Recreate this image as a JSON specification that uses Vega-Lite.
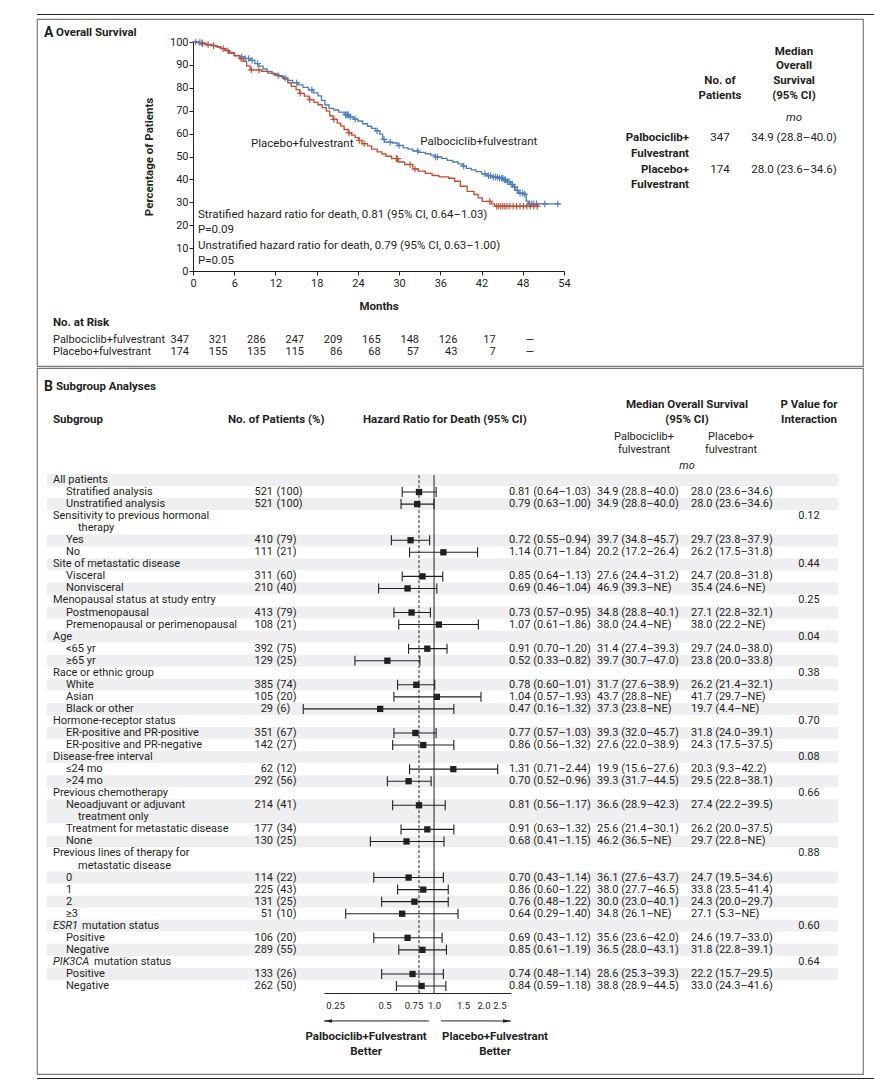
{
  "$schema": "https://vega.github.io/schema/vega-lite/v6.json",
  "padding": {"left": 36, "top": 14, "right": 0, "bottom": 0},
  "background": "white",
  "spacing": 3,
  "config": {
    "font": "Roboto",
    "view": {"stroke": null},
    "text": {"fontSize": 11, "color": "#231f20", "baseline": "middle"},
    "axis": {"labelFont": "Roboto", "titleFont": "Roboto", "labelColor": "#231f20", "titleColor": "#231f20", "domainColor": "#231f20", "tickColor": "#231f20", "grid": false}
  },
  "datasets": {
    "km": [
      {"arm":"pal","m":0,"pct":100},{"arm":"pal","m":0.8,"pct":99.7},{"arm":"pal","m":1.5,"pct":99.4},{"arm":"pal","m":2,"pct":99},{"arm":"pal","m":2.7,"pct":98.5},{"arm":"pal","m":3.3,"pct":98},{"arm":"pal","m":4,"pct":97.2},{"arm":"pal","m":4.6,"pct":96.3},{"arm":"pal","m":5.2,"pct":95.2},{"arm":"pal","m":6,"pct":94.2},{"arm":"pal","m":6.8,"pct":93.5},{"arm":"pal","m":7.5,"pct":92.8},{"arm":"pal","m":8.3,"pct":92},{"arm":"pal","m":9,"pct":90.6},{"arm":"pal","m":9.6,"pct":89.5},{"arm":"pal","m":10.2,"pct":88.2},{"arm":"pal","m":10.8,"pct":87.2},{"arm":"pal","m":11.5,"pct":86.2},{"arm":"pal","m":12.2,"pct":85.3},{"arm":"pal","m":13,"pct":84.3},{"arm":"pal","m":13.8,"pct":83.2},{"arm":"pal","m":14.5,"pct":82.2},{"arm":"pal","m":15.3,"pct":81.3},{"arm":"pal","m":16,"pct":80.2},{"arm":"pal","m":16.8,"pct":79.1},{"arm":"pal","m":17.5,"pct":77.8},{"arm":"pal","m":18.2,"pct":76.5},{"arm":"pal","m":18.7,"pct":74.5},{"arm":"pal","m":19.2,"pct":72.5},{"arm":"pal","m":19.8,"pct":71},{"arm":"pal","m":20.5,"pct":70.3},{"arm":"pal","m":21.2,"pct":69.4},{"arm":"pal","m":22,"pct":68.2},{"arm":"pal","m":22.7,"pct":67.3},{"arm":"pal","m":23.4,"pct":66.3},{"arm":"pal","m":24,"pct":65.5},{"arm":"pal","m":24.7,"pct":64.3},{"arm":"pal","m":25.4,"pct":63.2},{"arm":"pal","m":26,"pct":62.3},{"arm":"pal","m":26.6,"pct":61.2},{"arm":"pal","m":27.2,"pct":59.8},{"arm":"pal","m":27.6,"pct":57.5},{"arm":"pal","m":27.9,"pct":56.3},{"arm":"pal","m":29,"pct":55.9},{"arm":"pal","m":29.8,"pct":54.8},{"arm":"pal","m":30.6,"pct":53.8},{"arm":"pal","m":31.3,"pct":53.2},{"arm":"pal","m":32,"pct":52.4},{"arm":"pal","m":32.8,"pct":51.8},{"arm":"pal","m":33.8,"pct":51.2},{"arm":"pal","m":34.6,"pct":50.6},{"arm":"pal","m":35.2,"pct":49.8},{"arm":"pal","m":36.2,"pct":49.2},{"arm":"pal","m":37,"pct":48.3},{"arm":"pal","m":37.8,"pct":47.6},{"arm":"pal","m":38.6,"pct":46.8},{"arm":"pal","m":39.2,"pct":45.8},{"arm":"pal","m":39.8,"pct":44.8},{"arm":"pal","m":40.5,"pct":44.2},{"arm":"pal","m":41.2,"pct":43.4},{"arm":"pal","m":42,"pct":42.4},{"arm":"pal","m":42.8,"pct":41.6},{"arm":"pal","m":43.6,"pct":41},{"arm":"pal","m":44.4,"pct":40.5},{"arm":"pal","m":45.2,"pct":39.8},{"arm":"pal","m":45.7,"pct":39},{"arm":"pal","m":46.2,"pct":37.8},{"arm":"pal","m":46.6,"pct":36.8},{"arm":"pal","m":47,"pct":35.2},{"arm":"pal","m":47.4,"pct":34},{"arm":"pal","m":48.2,"pct":33.5},{"arm":"pal","m":48.5,"pct":30.5},{"arm":"pal","m":48.8,"pct":29.3},{"arm":"pal","m":53.4,"pct":29.3},
      {"arm":"pla","m":0,"pct":100},{"arm":"pla","m":0.9,"pct":99.3},{"arm":"pla","m":1.8,"pct":98.8},{"arm":"pla","m":2.7,"pct":98.4},{"arm":"pla","m":3.5,"pct":97.8},{"arm":"pla","m":4.1,"pct":97.1},{"arm":"pla","m":4.8,"pct":96.2},{"arm":"pla","m":5.3,"pct":95.3},{"arm":"pla","m":6,"pct":94},{"arm":"pla","m":6.8,"pct":92.7},{"arm":"pla","m":7.3,"pct":91.6},{"arm":"pla","m":7.8,"pct":89.6},{"arm":"pla","m":8.3,"pct":87.8},{"arm":"pla","m":10,"pct":87.2},{"arm":"pla","m":10.9,"pct":86.4},{"arm":"pla","m":11.8,"pct":85.6},{"arm":"pla","m":12.6,"pct":85},{"arm":"pla","m":13.2,"pct":83.8},{"arm":"pla","m":13.8,"pct":82.2},{"arm":"pla","m":14.3,"pct":80.6},{"arm":"pla","m":15,"pct":79.2},{"arm":"pla","m":15.5,"pct":77.6},{"arm":"pla","m":16.2,"pct":76.4},{"arm":"pla","m":16.9,"pct":74.8},{"arm":"pla","m":17.6,"pct":73.6},{"arm":"pla","m":18.2,"pct":72.6},{"arm":"pla","m":18.8,"pct":71.3},{"arm":"pla","m":19.4,"pct":69.8},{"arm":"pla","m":19.9,"pct":67.8},{"arm":"pla","m":20.4,"pct":66.2},{"arm":"pla","m":21,"pct":64.6},{"arm":"pla","m":21.5,"pct":63.3},{"arm":"pla","m":22,"pct":61.8},{"arm":"pla","m":22.6,"pct":60.3},{"arm":"pla","m":23.1,"pct":59.3},{"arm":"pla","m":23.6,"pct":58.2},{"arm":"pla","m":24.1,"pct":57},{"arm":"pla","m":24.6,"pct":55.6},{"arm":"pla","m":25.4,"pct":54.6},{"arm":"pla","m":26,"pct":53.2},{"arm":"pla","m":26.8,"pct":52},{"arm":"pla","m":27.5,"pct":51.1},{"arm":"pla","m":28.1,"pct":50.1},{"arm":"pla","m":28.9,"pct":49.1},{"arm":"pla","m":29.9,"pct":47.6},{"arm":"pla","m":30.8,"pct":46.5},{"arm":"pla","m":32,"pct":44.6},{"arm":"pla","m":32.8,"pct":43.6},{"arm":"pla","m":33.8,"pct":42.6},{"arm":"pla","m":34.8,"pct":41.7},{"arm":"pla","m":35.8,"pct":41.1},{"arm":"pla","m":37.2,"pct":40.5},{"arm":"pla","m":38.1,"pct":39.2},{"arm":"pla","m":38.9,"pct":37},{"arm":"pla","m":39.9,"pct":34.8},{"arm":"pla","m":40.9,"pct":33.4},{"arm":"pla","m":41.5,"pct":31.9},{"arm":"pla","m":42.1,"pct":30.4},{"arm":"pla","m":43.4,"pct":29.3},{"arm":"pla","m":43.9,"pct":28.3},{"arm":"pla","m":50.4,"pct":28.3}
    ],
    "cens": [
      {"arm":"pal","m":0.4,"pct":100},{"arm":"pal","m":1.0,"pct":99.7},{"arm":"pal","m":1.3,"pct":99.7},{"arm":"pal","m":7.1,"pct":93.5},{"arm":"pal","m":7.6,"pct":92.8},{"arm":"pal","m":8.1,"pct":92.8},{"arm":"pal","m":8.6,"pct":92},{"arm":"pal","m":9.4,"pct":90.6},{"arm":"pal","m":12.4,"pct":85.3},{"arm":"pal","m":13.4,"pct":84.3},{"arm":"pal","m":15.1,"pct":82.2},{"arm":"pal","m":17.3,"pct":79.1},{"arm":"pal","m":22.2,"pct":68.2},{"arm":"pal","m":22.4,"pct":68.2},{"arm":"pal","m":22.5,"pct":68.2},{"arm":"pal","m":22.6,"pct":68.2},{"arm":"pal","m":22.9,"pct":67.3},{"arm":"pal","m":23.6,"pct":66.3},{"arm":"pal","m":26.8,"pct":61.2},{"arm":"pal","m":27.8,"pct":57.5},{"arm":"pal","m":28.7,"pct":56.3},{"arm":"pal","m":30.0,"pct":54.8},{"arm":"pal","m":32.7,"pct":52.4},{"arm":"pal","m":35.3,"pct":49.8},{"arm":"pal","m":35.6,"pct":49.8},{"arm":"pal","m":39.4,"pct":45.8},{"arm":"pal","m":42.5,"pct":42.4},{"arm":"pal","m":43.0,"pct":41.6},{"arm":"pal","m":43.3,"pct":41.6},{"arm":"pal","m":43.7,"pct":41},{"arm":"pal","m":44.0,"pct":41},{"arm":"pal","m":44.3,"pct":41},{"arm":"pal","m":44.6,"pct":40.5},{"arm":"pal","m":44.9,"pct":40.5},{"arm":"pal","m":45.1,"pct":40.5},{"arm":"pal","m":45.3,"pct":39.8},{"arm":"pal","m":45.5,"pct":39.8},{"arm":"pal","m":45.8,"pct":39},{"arm":"pal","m":46.0,"pct":39},{"arm":"pal","m":46.3,"pct":37.8},{"arm":"pal","m":46.5,"pct":37.8},{"arm":"pal","m":46.8,"pct":36.8},{"arm":"pal","m":47.2,"pct":35.2},{"arm":"pal","m":47.6,"pct":34},{"arm":"pal","m":48.0,"pct":34},{"arm":"pal","m":48.3,"pct":33.5},{"arm":"pal","m":49.0,"pct":29.3},{"arm":"pal","m":49.3,"pct":29.3},{"arm":"pal","m":49.6,"pct":29.3},{"arm":"pal","m":50.0,"pct":29.3},{"arm":"pal","m":51.2,"pct":29.3},{"arm":"pal","m":53.1,"pct":29.3},
      {"arm":"pla","m":1.4,"pct":99.3},{"arm":"pla","m":2.2,"pct":98.8},{"arm":"pla","m":3.0,"pct":98.4},{"arm":"pla","m":4.4,"pct":97.1},{"arm":"pla","m":5.1,"pct":96.2},{"arm":"pla","m":7.0,"pct":92.7},{"arm":"pla","m":8.5,"pct":87.8},{"arm":"pla","m":9.6,"pct":87.8},{"arm":"pla","m":15.6,"pct":77.6},{"arm":"pla","m":17.0,"pct":74.8},{"arm":"pla","m":20.5,"pct":66.2},{"arm":"pla","m":22.7,"pct":60.3},{"arm":"pla","m":24.2,"pct":57},{"arm":"pla","m":24.9,"pct":55.6},{"arm":"pla","m":29.6,"pct":49.1},{"arm":"pla","m":29.8,"pct":49.1},{"arm":"pla","m":31.6,"pct":46.5},{"arm":"pla","m":32.3,"pct":44.6},{"arm":"pla","m":43.2,"pct":30.4},{"arm":"pla","m":44.2,"pct":28.3},{"arm":"pla","m":44.5,"pct":28.3},{"arm":"pla","m":44.8,"pct":28.3},{"arm":"pla","m":45.1,"pct":28.3},{"arm":"pla","m":45.4,"pct":28.3},{"arm":"pla","m":45.7,"pct":28.3},{"arm":"pla","m":46.1,"pct":28.3},{"arm":"pla","m":46.6,"pct":28.3},{"arm":"pla","m":47.1,"pct":28.3},{"arm":"pla","m":47.6,"pct":28.3},{"arm":"pla","m":48.1,"pct":28.3},{"arm":"pla","m":48.6,"pct":28.3},{"arm":"pla","m":49.1,"pct":28.3},{"arm":"pla","m":49.6,"pct":28.3},{"arm":"pla","m":50.1,"pct":28.3}
    ],
    "kmlab": [
      {"m":15.9,"pct":55.5,"t":"Placebo+fulvestrant"},
      {"m":41.6,"pct":56.3,"t":"Palbociclib+fulvestrant"}
    ],
    "hrnote": [
      {"m":0.73,"pct":24.5,"t":"Stratified hazard ratio for death, 0.81 (95% CI, 0.64–1.03)"},
      {"m":0.73,"pct":17.9,"t":"P=0.09"},
      {"m":0.73,"pct":10.9,"t":"Unstratified hazard ratio for death, 0.79 (95% CI, 0.63–1.00)"},
      {"m":0.73,"pct":4.4,"t":"P=0.05"}
    ],
    "atab": [
      {"col":0,"line":0,"t":"A","sub":"Overall Survival","role":"panel"},
      {"col":3,"line":3,"t":"No. of","role":"colhead"},
      {"col":3,"line":4,"t":"Patients","role":"colhead"},
      {"col":4,"line":1,"t":"Median","role":"colhead"},
      {"col":4,"line":2,"t":"Overall","role":"colhead"},
      {"col":4,"line":3,"t":"Survival","role":"colhead"},
      {"col":4,"line":4,"t":"(95% CI)","role":"colhead"},
      {"col":4,"line":5,"t":"mo","role":"unit"},
      {"col":2,"line":6,"t":"Palbociclib+","role":"arm"},
      {"col":2,"line":7,"t":"Fulvestrant","role":"arm"},
      {"col":2,"line":8,"t":"Placebo+","role":"arm"},
      {"col":2,"line":9,"t":"Fulvestrant","role":"arm"},
      {"col":3,"line":6,"t":"347","role":"value"},
      {"col":4,"line":6,"t":"34.9 (28.8–40.0)","role":"value"},
      {"col":3,"line":8,"t":"174","role":"value"},
      {"col":4,"line":8,"t":"28.0 (23.6–34.6)","role":"value"},
      {"col":1,"line":10,"t":"No. at Risk","role":"riskhead"},
      {"col":1,"line":11,"t":"Palbociclib+fulvestrant","role":"risklabel"},
      {"col":1,"line":12,"t":"Placebo+fulvestrant","role":"risklabel"}
    ],
    "risk": [
      {"line":11,"m":0,"n":"347"},{"line":11,"m":6,"n":"321"},{"line":11,"m":12,"n":"286"},{"line":11,"m":18,"n":"247"},{"line":11,"m":24,"n":"209"},{"line":11,"m":30,"n":"165"},{"line":11,"m":36,"n":"148"},{"line":11,"m":42,"n":"126"},{"line":11,"m":48,"n":"17"},{"line":11,"m":54,"n":"—"},
      {"line":12,"m":0,"n":"174"},{"line":12,"m":6,"n":"155"},{"line":12,"m":12,"n":"135"},{"line":12,"m":18,"n":"115"},{"line":12,"m":24,"n":"86"},{"line":12,"m":30,"n":"68"},{"line":12,"m":36,"n":"57"},{"line":12,"m":42,"n":"43"},{"line":12,"m":48,"n":"7"},{"line":12,"m":54,"n":"—"}
    ],
    "bhead": [
      {"col":-2,"line":-7.72,"t":"B","sub":"Subgroup Analyses","role":"panel"},
      {"col":0,"line":-4.98,"t":"Subgroup","role":"colhead"},
      {"col":3,"line":-4.98,"t":"No. of Patients (%)","role":"colhead"},
      {"col":6,"line":-4.98,"t":"Hazard Ratio for Death (95% CI)","role":"colhead"},
      {"col":10,"line":-6.22,"t":"Median Overall Survival","role":"colhead"},
      {"col":10,"line":-4.98,"t":"(95% CI)","role":"colhead"},
      {"col":13,"line":-6.22,"t":"P Value for","role":"colhead"},
      {"col":13,"line":-4.98,"t":"Interaction","role":"colhead"},
      {"col":9,"line":-3.57,"t":"Palbociclib+","role":"subhead"},
      {"col":9,"line":-2.49,"t":"fulvestrant","role":"subhead"},
      {"col":12,"line":-3.57,"t":"Placebo+","role":"subhead"},
      {"col":12,"line":-2.49,"t":"fulvestrant","role":"subhead"},
      {"col":10,"line":-1.16,"t":"mo","role":"unit"}
    ],
    "bands": [
      {"top":-0.5,"bottom":0.5},{"top":1.5,"bottom":2.5},{"top":4.5,"bottom":5.5},{"top":6.5,"bottom":7.5},{"top":8.5,"bottom":9.5},{"top":10.5,"bottom":11.5},{"top":12.5,"bottom":13.5},{"top":14.5,"bottom":15.5},{"top":16.5,"bottom":17.5},{"top":18.5,"bottom":19.5},{"top":20.5,"bottom":21.5},{"top":22.5,"bottom":23.5},{"top":24.5,"bottom":25.5},{"top":26.5,"bottom":28.5},{"top":29.5,"bottom":30.5},{"top":32.5,"bottom":33.5},{"top":34.5,"bottom":35.5},{"top":36.5,"bottom":37.5},{"top":38.5,"bottom":39.5},{"top":40.5,"bottom":41.5}
    ],
    "rows": [
      {"line":0,"level":0,"label":"All patients"},
      {"line":1,"level":1,"label":"Stratified analysis","cnt":"521","pc":"(100)","hr":0.81,"lo":0.64,"hi":1.03,"hrt":"0.81 (0.64–1.03)","pal":"34.9 (28.8–40.0)","pla":"28.0 (23.6–34.6)"},
      {"line":2,"level":1,"label":"Unstratified analysis","cnt":"521","pc":"(100)","hr":0.79,"lo":0.63,"hi":1.00,"hrt":"0.79 (0.63–1.00)","pal":"34.9 (28.8–40.0)","pla":"28.0 (23.6–34.6)"},
      {"line":3,"level":0,"label":"Sensitivity to previous hormonal","p":"0.12"},
      {"line":4,"level":2,"label":"therapy"},
      {"line":5,"level":1,"label":"Yes","cnt":"410","pc":"(79)","hr":0.72,"lo":0.55,"hi":0.94,"hrt":"0.72 (0.55–0.94)","pal":"39.7 (34.8–45.7)","pla":"29.7 (23.8–37.9)"},
      {"line":6,"level":1,"label":"No","cnt":"111","pc":"(21)","hr":1.14,"lo":0.71,"hi":1.84,"hrt":"1.14 (0.71–1.84)","pal":"20.2 (17.2–26.4)","pla":"26.2 (17.5–31.8)"},
      {"line":7,"level":0,"label":"Site of metastatic disease","p":"0.44"},
      {"line":8,"level":1,"label":"Visceral","cnt":"311","pc":"(60)","hr":0.85,"lo":0.64,"hi":1.13,"hrt":"0.85 (0.64–1.13)","pal":"27.6 (24.4–31.2)","pla":"24.7 (20.8–31.8)"},
      {"line":9,"level":1,"label":"Nonvisceral","cnt":"210","pc":"(40)","hr":0.69,"lo":0.46,"hi":1.04,"hrt":"0.69 (0.46–1.04)","pal":"46.9 (39.3–NE)","pla":"35.4 (24.6–NE)"},
      {"line":10,"level":0,"label":"Menopausal status at study entry","p":"0.25"},
      {"line":11,"level":1,"label":"Postmenopausal","cnt":"413","pc":"(79)","hr":0.73,"lo":0.57,"hi":0.95,"hrt":"0.73 (0.57–0.95)","pal":"34.8 (28.8–40.1)","pla":"27.1 (22.8–32.1)"},
      {"line":12,"level":1,"label":"Premenopausal or perimenopausal","cnt":"108","pc":"(21)","hr":1.07,"lo":0.61,"hi":1.86,"hrt":"1.07 (0.61–1.86)","pal":"38.0 (24.4–NE)","pla":"38.0 (22.2–NE)"},
      {"line":13,"level":0,"label":"Age","p":"0.04"},
      {"line":14,"level":1,"label":"<65 yr","cnt":"392","pc":"(75)","hr":0.91,"lo":0.70,"hi":1.20,"hrt":"0.91 (0.70–1.20)","pal":"31.4 (27.4–39.3)","pla":"29.7 (24.0–38.0)"},
      {"line":15,"level":1,"label":"≥65 yr","cnt":"129","pc":"(25)","hr":0.52,"lo":0.33,"hi":0.82,"hrt":"0.52 (0.33–0.82)","pal":"39.7 (30.7–47.0)","pla":"23.8 (20.0–33.8)"},
      {"line":16,"level":0,"label":"Race or ethnic group","p":"0.38"},
      {"line":17,"level":1,"label":"White","cnt":"385","pc":"(74)","hr":0.78,"lo":0.60,"hi":1.01,"hrt":"0.78 (0.60–1.01)","pal":"31.7 (27.6–38.9)","pla":"26.2 (21.4–32.1)"},
      {"line":18,"level":1,"label":"Asian","cnt":"105","pc":"(20)","hr":1.04,"lo":0.57,"hi":1.93,"hrt":"1.04 (0.57–1.93)","pal":"43.7 (28.8–NE)","pla":"41.7 (29.7–NE)"},
      {"line":19,"level":1,"label":"Black or other","cnt":"29","pc":"(6)","hr":0.47,"lo":0.16,"hi":1.32,"hrt":"0.47 (0.16–1.32)","pal":"37.3 (23.8–NE)","pla":"19.7 (4.4–NE)"},
      {"line":20,"level":0,"label":"Hormone-receptor status","p":"0.70"},
      {"line":21,"level":1,"label":"ER-positive and PR-positive","cnt":"351","pc":"(67)","hr":0.77,"lo":0.57,"hi":1.03,"hrt":"0.77 (0.57–1.03)","pal":"39.3 (32.0–45.7)","pla":"31.8 (24.0–39.1)"},
      {"line":22,"level":1,"label":"ER-positive and PR-negative","cnt":"142","pc":"(27)","hr":0.86,"lo":0.56,"hi":1.32,"hrt":"0.86 (0.56–1.32)","pal":"27.6 (22.0–38.9)","pla":"24.3 (17.5–37.5)"},
      {"line":23,"level":0,"label":"Disease-free interval","p":"0.08"},
      {"line":24,"level":1,"label":"≤24 mo","cnt":"62","pc":"(12)","hr":1.31,"lo":0.71,"hi":2.44,"hrt":"1.31 (0.71–2.44)","pal":"19.9 (15.6–27.6)","pla":"20.3 (9.3–42.2)"},
      {"line":25,"level":1,"label":">24 mo","cnt":"292","pc":"(56)","hr":0.70,"lo":0.52,"hi":0.96,"hrt":"0.70 (0.52–0.96)","pal":"39.3 (31.7–44.5)","pla":"29.5 (22.8–38.1)"},
      {"line":26,"level":0,"label":"Previous chemotherapy","p":"0.66"},
      {"line":27,"level":1,"label":"Neoadjuvant or adjuvant","cnt":"214","pc":"(41)","hr":0.81,"lo":0.56,"hi":1.17,"hrt":"0.81 (0.56–1.17)","pal":"36.6 (28.9–42.3)","pla":"27.4 (22.2–39.5)"},
      {"line":28,"level":2,"label":"treatment only"},
      {"line":29,"level":1,"label":"Treatment for metastatic disease","cnt":"177","pc":"(34)","hr":0.91,"lo":0.63,"hi":1.32,"hrt":"0.91 (0.63–1.32)","pal":"25.6 (21.4–30.1)","pla":"26.2 (20.0–37.5)"},
      {"line":30,"level":1,"label":"None","cnt":"130","pc":"(25)","hr":0.68,"lo":0.41,"hi":1.15,"hrt":"0.68 (0.41–1.15)","pal":"46.2 (36.5–NE)","pla":"29.7 (22.8–NE)"},
      {"line":31,"level":0,"label":"Previous lines of therapy for","p":"0.88"},
      {"line":32,"level":2,"label":"metastatic disease"},
      {"line":33,"level":1,"label":"0","cnt":"114","pc":"(22)","hr":0.70,"lo":0.43,"hi":1.14,"hrt":"0.70 (0.43–1.14)","pal":"36.1 (27.6–43.7)","pla":"24.7 (19.5–34.6)"},
      {"line":34,"level":1,"label":"1","cnt":"225","pc":"(43)","hr":0.86,"lo":0.60,"hi":1.22,"hrt":"0.86 (0.60–1.22)","pal":"38.0 (27.7–46.5)","pla":"33.8 (23.5–41.4)"},
      {"line":35,"level":1,"label":"2","cnt":"131","pc":"(25)","hr":0.76,"lo":0.48,"hi":1.22,"hrt":"0.76 (0.48–1.22)","pal":"30.0 (23.0–40.1)","pla":"24.3 (20.0–29.7)"},
      {"line":36,"level":1,"label":"≥3","cnt":"51","pc":"(10)","hr":0.64,"lo":0.29,"hi":1.40,"hrt":"0.64 (0.29–1.40)","pal":"34.8 (26.1–NE)","pla":"27.1 (5.3–NE)"},
      {"line":37,"level":0,"gene":"ESR1","after":"mutation status","p":"0.60"},
      {"line":38,"level":1,"label":"Positive","cnt":"106","pc":"(20)","hr":0.69,"lo":0.43,"hi":1.12,"hrt":"0.69 (0.43–1.12)","pal":"35.6 (23.6–42.0)","pla":"24.6 (19.7–33.0)"},
      {"line":39,"level":1,"label":"Negative","cnt":"289","pc":"(55)","hr":0.85,"lo":0.61,"hi":1.19,"hrt":"0.85 (0.61–1.19)","pal":"36.5 (28.0–43.1)","pla":"31.8 (22.8–39.1)"},
      {"line":40,"level":0,"gene":"PIK3CA","after":"mutation status","p":"0.64"},
      {"line":41,"level":1,"label":"Positive","cnt":"133","pc":"(26)","hr":0.74,"lo":0.48,"hi":1.14,"hrt":"0.74 (0.48–1.14)","pal":"28.6 (25.3–39.3)","pla":"22.2 (15.7–29.5)"},
      {"line":42,"level":1,"label":"Negative","cnt":"262","pc":"(50)","hr":0.84,"lo":0.59,"hi":1.18,"hrt":"0.84 (0.59–1.18)","pal":"38.8 (28.9–44.5)","pla":"33.0 (24.3–41.6)"}
    ],
    "arrows": [
      {"from":0.93,"to":0.214,"line":44.9,"dir":"left"},
      {"from":1.10,"to":2.94,"line":44.9,"dir":"right"}
    ],
    "arrowlab": [
      {"x":0.386,"line":46.22,"t":"Palbociclib+Fulvestrant"},
      {"x":0.386,"line":47.47,"t":"Better"},
      {"x":2.35,"line":46.22,"t":"Placebo+Fulvestrant"},
      {"x":2.35,"line":47.47,"t":"Better"}
    ]
  },
  "vconcat": [
    {
      "width": 838, "height": 1,
      "data": {"values": []},
      "mark": "point",
      "view": {"fill": "#231f20", "stroke": null}
    },
    {
      "spacing": 0,
      "vconcat": [
        {
          "width": 826, "height": 347,
          "view": {"stroke": "#7a7a7a", "strokeWidth": 1.2},
          "data": {"name": "atab"},
          "resolve": {"scale": {"x": "independent", "y": "independent", "color": "independent"}},
          "layer": [
            {
              "data": {"name": "km"},
              "mark": {"type": "line", "interpolate": "step-after", "strokeWidth": 1.3},
              "encoding": {
                "x": {"field": "m", "type": "quantitative", "scale": {"domain": [0, 54], "range": [156, 527], "nice": false, "zero": false},
                  "axis": {"orient": "bottom", "offset": -95, "values": [0, 6, 12, 18, 24, 30, 36, 42, 48, 54], "title": "Months", "titleFontWeight": "bold", "titleFontSize": 11.5, "titlePadding": 12, "labelFontSize": 11, "tickSize": 4, "labelPadding": 2, "labelFlush": false, "labelOverlap": false}},
                "y": {"field": "pct", "type": "quantitative", "scale": {"domain": [0, 100], "range": [252, 23], "nice": false, "zero": false},
                  "axis": {"orient": "left", "offset": -156, "values": [0, 10, 20, 30, 40, 50, 60, 70, 80, 90, 100], "title": "Percentage of Patients", "titleFontWeight": "bold", "titleFontSize": 11.5, "titlePadding": 15, "labelFontSize": 11, "tickSize": 4, "labelPadding": 1, "labelOverlap": false}},
                "color": {"field": "arm", "type": "nominal", "scale": {"domain": ["pal", "pla"], "range": ["#4a7dc2", "#c64a2e"]}, "legend": null}
              }
            },
            {
              "data": {"name": "cens"},
              "mark": {"type": "point", "shape": "M-1,0H1M0,-1V1", "filled": false, "size": 44, "strokeWidth": 1.1, "opacity": 1},
              "encoding": {
                "x": {"field": "m", "type": "quantitative", "scale": {"domain": [0, 54], "range": [156, 527], "nice": false, "zero": false}, "axis": null},
                "y": {"field": "pct", "type": "quantitative", "scale": {"domain": [0, 100], "range": [252, 23], "nice": false, "zero": false}, "axis": null},
                "color": {"field": "arm", "type": "nominal", "scale": {"domain": ["pal", "pla"], "range": ["#4a7dc2", "#c64a2e"]}, "legend": null}
              }
            },
            {
              "data": {"name": "kmlab"},
              "mark": {"type": "text", "align": "center", "fontSize": 11.5},
              "encoding": {
                "x": {"field": "m", "type": "quantitative", "scale": {"domain": [0, 54], "range": [156, 527], "nice": false, "zero": false}, "axis": null},
                "y": {"field": "pct", "type": "quantitative", "scale": {"domain": [0, 100], "range": [252, 23], "nice": false, "zero": false}, "axis": null},
                "text": {"field": "t"}
              }
            },
            {
              "data": {"name": "hrnote"},
              "mark": {"type": "text", "align": "left", "fontSize": 11.5},
              "encoding": {
                "x": {"field": "m", "type": "quantitative", "scale": {"domain": [0, 54], "range": [156, 527], "nice": false, "zero": false}, "axis": null},
                "y": {"field": "pct", "type": "quantitative", "scale": {"domain": [0, 100], "range": [252, 23], "nice": false, "zero": false}, "axis": null},
                "text": {"field": "t"}
              }
            },
            {
              "transform": [{"filter": "datum.role == 'panel'"}],
              "mark": {"type": "text", "align": "left", "fontSize": 14, "fontWeight": "bold"},
              "encoding": {
                "x": {"field": "col", "type": "quantitative", "scale": {"domain": [0, 1, 2, 3, 4], "range": [7, 16, 652, 683, 757], "nice": false, "zero": false}, "axis": null},
                "y": {"field": "line", "type": "quantitative", "scale": {"domain": [0, 1, 2, 3, 4, 5, 6, 7, 8, 9, 10, 11, 12], "range": [14, 33, 47, 62, 77, 99, 119, 135, 151, 166, 304, 321, 333], "nice": false, "zero": false}, "axis": null},
                "text": {"field": "t"}
              }
            },
            {
              "transform": [{"filter": "datum.role == 'panel'"}],
              "mark": {"type": "text", "align": "left", "fontSize": 11.5, "fontWeight": "bold", "dx": 12},
              "encoding": {
                "x": {"field": "col", "type": "quantitative", "scale": {"domain": [0, 1, 2, 3, 4], "range": [7, 16, 652, 683, 757], "nice": false, "zero": false}, "axis": null},
                "y": {"field": "line", "type": "quantitative", "scale": {"domain": [0, 1, 2, 3, 4, 5, 6, 7, 8, 9, 10, 11, 12], "range": [14, 33, 47, 62, 77, 99, 119, 135, 151, 166, 304, 321, 333], "nice": false, "zero": false}, "axis": null},
                "text": {"field": "sub"}
              }
            },
            {
              "transform": [{"filter": "datum.role == 'colhead'"}],
              "mark": {"type": "text", "align": "center", "fontSize": 11.5, "fontWeight": "bold"},
              "encoding": {
                "x": {"field": "col", "type": "quantitative", "scale": {"domain": [0, 1, 2, 3, 4], "range": [7, 16, 652, 683, 757], "nice": false, "zero": false}, "axis": null},
                "y": {"field": "line", "type": "quantitative", "scale": {"domain": [0, 1, 2, 3, 4, 5, 6, 7, 8, 9, 10, 11, 12], "range": [14, 33, 47, 62, 77, 99, 119, 135, 151, 166, 304, 321, 333], "nice": false, "zero": false}, "axis": null},
                "text": {"field": "t"}
              }
            },
            {
              "transform": [{"filter": "datum.role == 'arm'"}],
              "mark": {"type": "text", "align": "right", "fontSize": 11.5, "fontWeight": "bold"},
              "encoding": {
                "x": {"field": "col", "type": "quantitative", "scale": {"domain": [0, 1, 2, 3, 4], "range": [7, 16, 652, 683, 757], "nice": false, "zero": false}, "axis": null},
                "y": {"field": "line", "type": "quantitative", "scale": {"domain": [0, 1, 2, 3, 4, 5, 6, 7, 8, 9, 10, 11, 12], "range": [14, 33, 47, 62, 77, 99, 119, 135, 151, 166, 304, 321, 333], "nice": false, "zero": false}, "axis": null},
                "text": {"field": "t"}
              }
            },
            {
              "transform": [{"filter": "datum.role == 'value'"}],
              "mark": {"type": "text", "align": "center", "fontSize": 11.5},
              "encoding": {
                "x": {"field": "col", "type": "quantitative", "scale": {"domain": [0, 1, 2, 3, 4], "range": [7, 16, 652, 683, 757], "nice": false, "zero": false}, "axis": null},
                "y": {"field": "line", "type": "quantitative", "scale": {"domain": [0, 1, 2, 3, 4, 5, 6, 7, 8, 9, 10, 11, 12], "range": [14, 33, 47, 62, 77, 99, 119, 135, 151, 166, 304, 321, 333], "nice": false, "zero": false}, "axis": null},
                "text": {"field": "t"}
              }
            },
            {
              "transform": [{"filter": "datum.role == 'unit'"}],
              "mark": {"type": "text", "align": "center", "fontSize": 11.5, "fontStyle": "italic"},
              "encoding": {
                "x": {"field": "col", "type": "quantitative", "scale": {"domain": [0, 1, 2, 3, 4], "range": [7, 16, 652, 683, 757], "nice": false, "zero": false}, "axis": null},
                "y": {"field": "line", "type": "quantitative", "scale": {"domain": [0, 1, 2, 3, 4, 5, 6, 7, 8, 9, 10, 11, 12], "range": [14, 33, 47, 62, 77, 99, 119, 135, 151, 166, 304, 321, 333], "nice": false, "zero": false}, "axis": null},
                "text": {"field": "t"}
              }
            },
            {
              "transform": [{"filter": "datum.role == 'riskhead'"}],
              "mark": {"type": "text", "align": "left", "fontSize": 11.5, "fontWeight": "bold"},
              "encoding": {
                "x": {"field": "col", "type": "quantitative", "scale": {"domain": [0, 1, 2, 3, 4], "range": [7, 16, 652, 683, 757], "nice": false, "zero": false}, "axis": null},
                "y": {"field": "line", "type": "quantitative", "scale": {"domain": [0, 1, 2, 3, 4, 5, 6, 7, 8, 9, 10, 11, 12], "range": [14, 33, 47, 62, 77, 99, 119, 135, 151, 166, 304, 321, 333], "nice": false, "zero": false}, "axis": null},
                "text": {"field": "t"}
              }
            },
            {
              "transform": [{"filter": "datum.role == 'risklabel'"}],
              "mark": {"type": "text", "align": "left", "fontSize": 11},
              "encoding": {
                "x": {"field": "col", "type": "quantitative", "scale": {"domain": [0, 1, 2, 3, 4], "range": [7, 16, 652, 683, 757], "nice": false, "zero": false}, "axis": null},
                "y": {"field": "line", "type": "quantitative", "scale": {"domain": [0, 1, 2, 3, 4, 5, 6, 7, 8, 9, 10, 11, 12], "range": [14, 33, 47, 62, 77, 99, 119, 135, 151, 166, 304, 321, 333], "nice": false, "zero": false}, "axis": null},
                "text": {"field": "t"}
              }
            },
            {
              "data": {"name": "risk"},
              "mark": {"type": "text", "align": "right", "fontSize": 11},
              "encoding": {
                "x": {"field": "m", "type": "quantitative", "scale": {"domain": [0, 54], "range": [152, 497], "nice": false, "zero": false}, "axis": null},
                "y": {"field": "line", "type": "quantitative", "scale": {"domain": [0, 1, 2, 3, 4, 5, 6, 7, 8, 9, 10, 11, 12], "range": [14, 33, 47, 62, 77, 99, 119, 135, 151, 166, 304, 321, 333], "nice": false, "zero": false}, "axis": null},
                "text": {"field": "n"}
              }
            }
          ]
        },
        {
          "width": 826, "height": 706,
          "view": {"stroke": "#7a7a7a", "strokeWidth": 1.2},
          "data": {"name": "rows"},
          "resolve": {"scale": {"x": "independent", "y": "independent"}},
          "layer": [
            {
              "data": {"name": "bands"},
              "mark": {"type": "rect", "color": "#efeff1"},
              "encoding": {
                "x": {"datum": -1, "type": "quantitative", "scale": {"domain": [-2, -1, 0, 1, 2, 3, 4, 5, 6, 7, 8, 9, 10, 11, 12, 13, 14], "range": [7, 10, 16, 29, 41, 191, 236, 239.5, 326, 472, 560, 607, 650, 654, 694, 772, 801], "nice": false, "zero": false}, "axis": null},
                "x2": {"datum": 14},
                "y": {"field": "top", "type": "quantitative", "scale": {"domain": [0, 42], "range": [112, 618], "nice": false, "zero": false}, "axis": null},
                "y2": {"field": "bottom"}
              }
            },
            {
              "data": {"name": "bhead"},
              "transform": [{"filter": "datum.role == 'panel'"}],
              "mark": {"type": "text", "align": "left", "fontSize": 14, "fontWeight": "bold"},
              "encoding": {
                "x": {"field": "col", "type": "quantitative", "scale": {"domain": [-2, -1, 0, 1, 2, 3, 4, 5, 6, 7, 8, 9, 10, 11, 12, 13, 14], "range": [7, 10, 16, 29, 41, 191, 236, 239.5, 326, 472, 560, 607, 650, 654, 694, 772, 801], "nice": false, "zero": false}, "axis": null},
                "y": {"field": "line", "type": "quantitative", "scale": {"domain": [0, 42], "range": [112, 618], "nice": false, "zero": false}, "axis": null},
                "text": {"field": "t"}
              }
            },
            {
              "data": {"name": "bhead"},
              "transform": [{"filter": "datum.role == 'panel'"}],
              "mark": {"type": "text", "align": "left", "fontSize": 11.5, "fontWeight": "bold", "dx": 12},
              "encoding": {
                "x": {"field": "col", "type": "quantitative", "scale": {"domain": [-2, -1, 0, 1, 2, 3, 4, 5, 6, 7, 8, 9, 10, 11, 12, 13, 14], "range": [7, 10, 16, 29, 41, 191, 236, 239.5, 326, 472, 560, 607, 650, 654, 694, 772, 801], "nice": false, "zero": false}, "axis": null},
                "y": {"field": "line", "type": "quantitative", "scale": {"domain": [0, 42], "range": [112, 618], "nice": false, "zero": false}, "axis": null},
                "text": {"field": "sub"}
              }
            },
            {
              "data": {"name": "bhead"},
              "transform": [{"filter": "datum.role == 'colhead' && datum.col < 9"}],
              "mark": {"type": "text", "align": "left", "fontSize": 11.5, "fontWeight": "bold"},
              "encoding": {
                "x": {"field": "col", "type": "quantitative", "scale": {"domain": [-2, -1, 0, 1, 2, 3, 4, 5, 6, 7, 8, 9, 10, 11, 12, 13, 14], "range": [7, 10, 16, 29, 41, 191, 236, 239.5, 326, 472, 560, 607, 650, 654, 694, 772, 801], "nice": false, "zero": false}, "axis": null},
                "y": {"field": "line", "type": "quantitative", "scale": {"domain": [0, 42], "range": [112, 618], "nice": false, "zero": false}, "axis": null},
                "text": {"field": "t"}
              }
            },
            {
              "data": {"name": "bhead"},
              "transform": [{"filter": "datum.role == 'colhead' && datum.col >= 9"}],
              "mark": {"type": "text", "align": "center", "fontSize": 11.5, "fontWeight": "bold"},
              "encoding": {
                "x": {"field": "col", "type": "quantitative", "scale": {"domain": [-2, -1, 0, 1, 2, 3, 4, 5, 6, 7, 8, 9, 10, 11, 12, 13, 14], "range": [7, 10, 16, 29, 41, 191, 236, 239.5, 326, 472, 560, 607, 650, 654, 694, 772, 801], "nice": false, "zero": false}, "axis": null},
                "y": {"field": "line", "type": "quantitative", "scale": {"domain": [0, 42], "range": [112, 618], "nice": false, "zero": false}, "axis": null},
                "text": {"field": "t"}
              }
            },
            {
              "data": {"name": "bhead"},
              "transform": [{"filter": "datum.role == 'subhead'"}],
              "mark": {"type": "text", "align": "center", "fontSize": 11},
              "encoding": {
                "x": {"field": "col", "type": "quantitative", "scale": {"domain": [-2, -1, 0, 1, 2, 3, 4, 5, 6, 7, 8, 9, 10, 11, 12, 13, 14], "range": [7, 10, 16, 29, 41, 191, 236, 239.5, 326, 472, 560, 607, 650, 654, 694, 772, 801], "nice": false, "zero": false}, "axis": null},
                "y": {"field": "line", "type": "quantitative", "scale": {"domain": [0, 42], "range": [112, 618], "nice": false, "zero": false}, "axis": null},
                "text": {"field": "t"}
              }
            },
            {
              "data": {"name": "bhead"},
              "transform": [{"filter": "datum.role == 'unit'"}],
              "mark": {"type": "text", "align": "center", "fontSize": 11, "fontStyle": "italic"},
              "encoding": {
                "x": {"field": "col", "type": "quantitative", "scale": {"domain": [-2, -1, 0, 1, 2, 3, 4, 5, 6, 7, 8, 9, 10, 11, 12, 13, 14], "range": [7, 10, 16, 29, 41, 191, 236, 239.5, 326, 472, 560, 607, 650, 654, 694, 772, 801], "nice": false, "zero": false}, "axis": null},
                "y": {"field": "line", "type": "quantitative", "scale": {"domain": [0, 42], "range": [112, 618], "nice": false, "zero": false}, "axis": null},
                "text": {"field": "t"}
              }
            },
            {
              "transform": [{"filter": "datum.label != null"}],
              "mark": {"type": "text", "align": "left", "fontSize": 11},
              "encoding": {
                "x": {"field": "level", "type": "quantitative", "scale": {"domain": [-2, -1, 0, 1, 2, 3, 4, 5, 6, 7, 8, 9, 10, 11, 12, 13, 14], "range": [7, 10, 16, 29, 41, 191, 236, 239.5, 326, 472, 560, 607, 650, 654, 694, 772, 801], "nice": false, "zero": false}, "axis": null},
                "y": {"field": "line", "type": "quantitative", "scale": {"domain": [0, 42], "range": [112, 618], "nice": false, "zero": false}, "axis": null},
                "text": {"field": "label"}
              }
            },
            {
              "transform": [{"filter": "datum.gene != null"}],
              "mark": {"type": "text", "align": "left", "fontSize": 11, "fontStyle": "italic"},
              "encoding": {
                "x": {"field": "level", "type": "quantitative", "scale": {"domain": [-2, -1, 0, 1, 2, 3, 4, 5, 6, 7, 8, 9, 10, 11, 12, 13, 14], "range": [7, 10, 16, 29, 41, 191, 236, 239.5, 326, 472, 560, 607, 650, 654, 694, 772, 801], "nice": false, "zero": false}, "axis": null},
                "y": {"field": "line", "type": "quantitative", "scale": {"domain": [0, 42], "range": [112, 618], "nice": false, "zero": false}, "axis": null},
                "text": {"field": "gene"}
              }
            },
            {
              "transform": [{"filter": "datum.gene == 'ESR1'"}],
              "mark": {"type": "text", "align": "left", "fontSize": 11, "dx": 29},
              "encoding": {
                "x": {"field": "level", "type": "quantitative", "scale": {"domain": [-2, -1, 0, 1, 2, 3, 4, 5, 6, 7, 8, 9, 10, 11, 12, 13, 14], "range": [7, 10, 16, 29, 41, 191, 236, 239.5, 326, 472, 560, 607, 650, 654, 694, 772, 801], "nice": false, "zero": false}, "axis": null},
                "y": {"field": "line", "type": "quantitative", "scale": {"domain": [0, 42], "range": [112, 618], "nice": false, "zero": false}, "axis": null},
                "text": {"field": "after"}
              }
            },
            {
              "transform": [{"filter": "datum.gene == 'PIK3CA'"}],
              "mark": {"type": "text", "align": "left", "fontSize": 11, "dx": 41},
              "encoding": {
                "x": {"field": "level", "type": "quantitative", "scale": {"domain": [-2, -1, 0, 1, 2, 3, 4, 5, 6, 7, 8, 9, 10, 11, 12, 13, 14], "range": [7, 10, 16, 29, 41, 191, 236, 239.5, 326, 472, 560, 607, 650, 654, 694, 772, 801], "nice": false, "zero": false}, "axis": null},
                "y": {"field": "line", "type": "quantitative", "scale": {"domain": [0, 42], "range": [112, 618], "nice": false, "zero": false}, "axis": null},
                "text": {"field": "after"}
              }
            },
            {
              "transform": [{"filter": "datum.cnt != null"}],
              "mark": {"type": "text", "align": "right", "fontSize": 11},
              "encoding": {
                "x": {"datum": 4, "type": "quantitative", "scale": {"domain": [-2, -1, 0, 1, 2, 3, 4, 5, 6, 7, 8, 9, 10, 11, 12, 13, 14], "range": [7, 10, 16, 29, 41, 191, 236, 239.5, 326, 472, 560, 607, 650, 654, 694, 772, 801], "nice": false, "zero": false}, "axis": null},
                "y": {"field": "line", "type": "quantitative", "scale": {"domain": [0, 42], "range": [112, 618], "nice": false, "zero": false}, "axis": null},
                "text": {"field": "cnt"}
              }
            },
            {
              "transform": [{"filter": "datum.pc != null"}],
              "mark": {"type": "text", "align": "left", "fontSize": 11},
              "encoding": {
                "x": {"datum": 5, "type": "quantitative", "scale": {"domain": [-2, -1, 0, 1, 2, 3, 4, 5, 6, 7, 8, 9, 10, 11, 12, 13, 14], "range": [7, 10, 16, 29, 41, 191, 236, 239.5, 326, 472, 560, 607, 650, 654, 694, 772, 801], "nice": false, "zero": false}, "axis": null},
                "y": {"field": "line", "type": "quantitative", "scale": {"domain": [0, 42], "range": [112, 618], "nice": false, "zero": false}, "axis": null},
                "text": {"field": "pc"}
              }
            },
            {
              "transform": [{"filter": "datum.hrt != null"}],
              "mark": {"type": "text", "align": "left", "fontSize": 11},
              "encoding": {
                "x": {"datum": 7, "type": "quantitative", "scale": {"domain": [-2, -1, 0, 1, 2, 3, 4, 5, 6, 7, 8, 9, 10, 11, 12, 13, 14], "range": [7, 10, 16, 29, 41, 191, 236, 239.5, 326, 472, 560, 607, 650, 654, 694, 772, 801], "nice": false, "zero": false}, "axis": null},
                "y": {"field": "line", "type": "quantitative", "scale": {"domain": [0, 42], "range": [112, 618], "nice": false, "zero": false}, "axis": null},
                "text": {"field": "hrt"}
              }
            },
            {
              "transform": [{"filter": "datum.pal != null"}],
              "mark": {"type": "text", "align": "left", "fontSize": 11},
              "encoding": {
                "x": {"datum": 8, "type": "quantitative", "scale": {"domain": [-2, -1, 0, 1, 2, 3, 4, 5, 6, 7, 8, 9, 10, 11, 12, 13, 14], "range": [7, 10, 16, 29, 41, 191, 236, 239.5, 326, 472, 560, 607, 650, 654, 694, 772, 801], "nice": false, "zero": false}, "axis": null},
                "y": {"field": "line", "type": "quantitative", "scale": {"domain": [0, 42], "range": [112, 618], "nice": false, "zero": false}, "axis": null},
                "text": {"field": "pal"}
              }
            },
            {
              "transform": [{"filter": "datum.pla != null"}],
              "mark": {"type": "text", "align": "left", "fontSize": 11},
              "encoding": {
                "x": {"datum": 11, "type": "quantitative", "scale": {"domain": [-2, -1, 0, 1, 2, 3, 4, 5, 6, 7, 8, 9, 10, 11, 12, 13, 14], "range": [7, 10, 16, 29, 41, 191, 236, 239.5, 326, 472, 560, 607, 650, 654, 694, 772, 801], "nice": false, "zero": false}, "axis": null},
                "y": {"field": "line", "type": "quantitative", "scale": {"domain": [0, 42], "range": [112, 618], "nice": false, "zero": false}, "axis": null},
                "text": {"field": "pla"}
              }
            },
            {
              "transform": [{"filter": "datum.p != null"}],
              "mark": {"type": "text", "align": "center", "fontSize": 11},
              "encoding": {
                "x": {"datum": 13, "type": "quantitative", "scale": {"domain": [-2, -1, 0, 1, 2, 3, 4, 5, 6, 7, 8, 9, 10, 11, 12, 13, 14], "range": [7, 10, 16, 29, 41, 191, 236, 239.5, 326, 472, 560, 607, 650, 654, 694, 772, 801], "nice": false, "zero": false}, "axis": null},
                "y": {"field": "line", "type": "quantitative", "scale": {"domain": [0, 42], "range": [112, 618], "nice": false, "zero": false}, "axis": null},
                "text": {"field": "p"}
              }
            },
            {
              "data": {"values": [{}]},
              "mark": {"type": "rule", "color": "#231f20", "strokeWidth": 1},
              "encoding": {
                "x": {"datum": 1, "type": "quantitative", "scale": {"type": "log", "domain": [0.214, 2.94], "range": [287, 474], "nice": false},
                  "axis": {"orient": "bottom", "offset": -81, "values": [0.25, 0.5, 0.75, 1, 1.5, 2, 2.5], "labelExpr": "datum.value < 0.3 || (datum.value > 0.7 && datum.value < 0.8) ? format(datum.value, '.2f') : format(datum.value, '.1f')", "ticks": false, "title": null, "labelFontSize": 9.5, "labelPadding": 7, "labelFlush": false, "labelOverlap": false, "domainWidth": 1}},
                "y": {"datum": -0.4, "type": "quantitative", "scale": {"domain": [0, 42], "range": [112, 618], "nice": false, "zero": false}, "axis": null},
                "y2": {"datum": 42.58}
              }
            },
            {
              "data": {"values": [{}]},
              "mark": {"type": "rule", "color": "#231f20", "strokeWidth": 1, "strokeDash": [3, 2]},
              "encoding": {
                "x": {"datum": 0.81, "type": "quantitative", "scale": {"type": "log", "domain": [0.214, 2.94], "range": [287, 474], "nice": false}, "axis": null},
                "y": {"datum": -0.4, "type": "quantitative", "scale": {"domain": [0, 42], "range": [112, 618], "nice": false, "zero": false}, "axis": null},
                "y2": {"datum": 42.58}
              }
            },
            {
              "transform": [{"filter": "datum.hr != null"}],
              "mark": {"type": "rule", "color": "#231f20", "strokeWidth": 1.1},
              "encoding": {
                "x": {"field": "lo", "type": "quantitative", "scale": {"type": "log", "domain": [0.214, 2.94], "range": [287, 474], "nice": false}, "axis": null},
                "x2": {"field": "hi"},
                "y": {"field": "line", "type": "quantitative", "scale": {"domain": [0, 42], "range": [112, 618], "nice": false, "zero": false}, "axis": null}
              }
            },
            {
              "transform": [{"filter": "datum.hr != null"}],
              "mark": {"type": "point", "shape": "M0,-1V1", "filled": false, "size": 100, "strokeWidth": 1.1, "color": "#231f20", "opacity": 1},
              "encoding": {
                "x": {"field": "lo", "type": "quantitative", "scale": {"type": "log", "domain": [0.214, 2.94], "range": [287, 474], "nice": false}, "axis": null},
                "y": {"field": "line", "type": "quantitative", "scale": {"domain": [0, 42], "range": [112, 618], "nice": false, "zero": false}, "axis": null}
              }
            },
            {
              "transform": [{"filter": "datum.hr != null"}],
              "mark": {"type": "point", "shape": "M0,-1V1", "filled": false, "size": 100, "strokeWidth": 1.1, "color": "#231f20", "opacity": 1},
              "encoding": {
                "x": {"field": "hi", "type": "quantitative", "scale": {"type": "log", "domain": [0.214, 2.94], "range": [287, 474], "nice": false}, "axis": null},
                "y": {"field": "line", "type": "quantitative", "scale": {"domain": [0, 42], "range": [112, 618], "nice": false, "zero": false}, "axis": null}
              }
            },
            {
              "transform": [{"filter": "datum.hr != null"}],
              "mark": {"type": "point", "shape": "square", "filled": true, "size": 40, "color": "#231f20", "opacity": 1},
              "encoding": {
                "x": {"field": "hr", "type": "quantitative", "scale": {"type": "log", "domain": [0.214, 2.94], "range": [287, 474], "nice": false}, "axis": null},
                "y": {"field": "line", "type": "quantitative", "scale": {"domain": [0, 42], "range": [112, 618], "nice": false, "zero": false}, "axis": null}
              }
            },
            {
              "data": {"name": "arrows"},
              "mark": {"type": "rule", "color": "#231f20", "strokeWidth": 1},
              "encoding": {
                "x": {"field": "from", "type": "quantitative", "scale": {"type": "log", "domain": [0.214, 2.94], "range": [287, 474], "nice": false}, "axis": null},
                "x2": {"field": "to"},
                "y": {"field": "line", "type": "quantitative", "scale": {"domain": [0, 42], "range": [112, 618], "nice": false, "zero": false}, "axis": null}
              }
            },
            {
              "data": {"name": "arrows"},
              "mark": {"type": "point", "filled": true, "size": 64, "color": "#231f20", "opacity": 1},
              "encoding": {
                "x": {"field": "to", "type": "quantitative", "scale": {"type": "log", "domain": [0.214, 2.94], "range": [287, 474], "nice": false}, "axis": null},
                "y": {"field": "line", "type": "quantitative", "scale": {"domain": [0, 42], "range": [112, 618], "nice": false, "zero": false}, "axis": null},
                "shape": {"field": "dir", "type": "nominal", "scale": {"domain": ["left", "right"], "range": ["M0,0L2,-0.45L2,0.45Z", "M0,0L-2,-0.45L-2,0.45Z"]}, "legend": null}
              }
            },
            {
              "data": {"name": "arrowlab"},
              "mark": {"type": "text", "align": "center", "fontSize": 11.5, "fontWeight": "bold"},
              "encoding": {
                "x": {"field": "x", "type": "quantitative", "scale": {"type": "log", "domain": [0.214, 2.94], "range": [287, 474], "nice": false}, "axis": null},
                "y": {"field": "line", "type": "quantitative", "scale": {"domain": [0, 42], "range": [112, 618], "nice": false, "zero": false}, "axis": null},
                "text": {"field": "t"}
              }
            }
          ]
        }
      ]
    },
    {
      "width": 838, "height": 1,
      "data": {"values": []},
      "mark": "point",
      "view": {"fill": "#231f20", "stroke": null}
    }
  ]
}
